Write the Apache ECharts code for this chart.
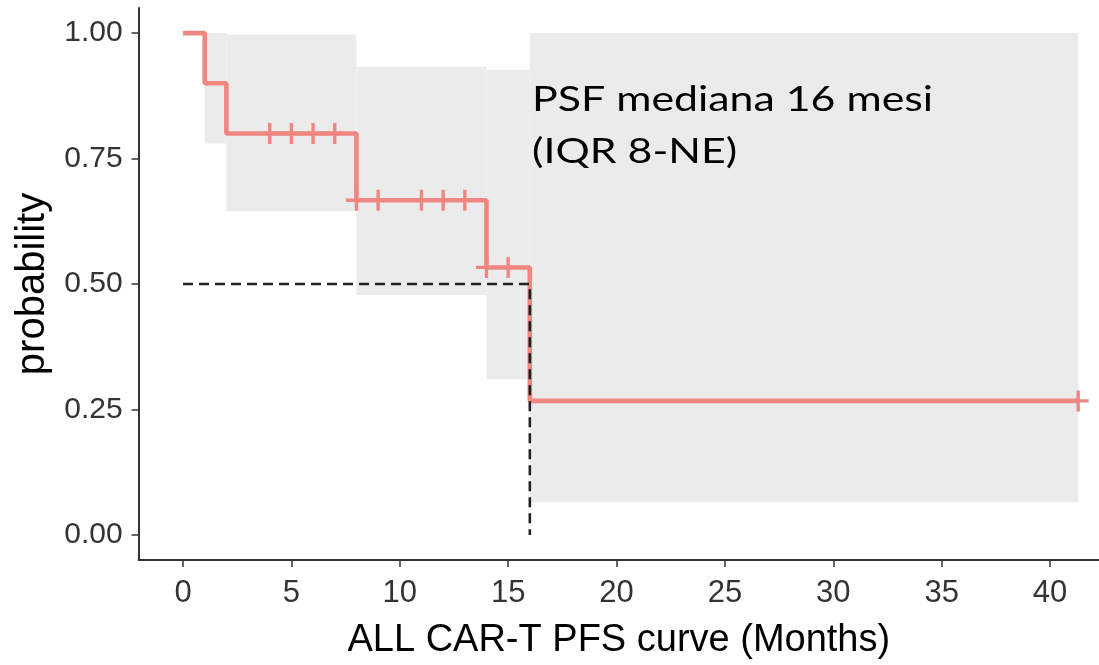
<!DOCTYPE html>
<html>
<head>
<meta charset="utf-8">
<script src="https://cdn.jsdelivr.net/npm/echarts@6/dist/echarts.min.js"></script>
<style>
  html, body { margin: 0; padding: 0; background: #fff; }
  #chart { width: 1099px; height: 665px; }
</style>
</head>
<body>
<div id="chart"></div>
<script>
// Kaplan-Meier step curve
const kmTime = [0, 1, 2, 8, 14, 16, 41.3];
const kmSurv = [1.0, 0.9, 0.8, 0.667, 0.533, 0.267, 0.267];
// censored observations
const censorTime = [4, 5, 6, 7, 8, 9, 11, 12, 13, 14, 15, 41.3];
const censorSurv = [0.8, 0.8, 0.8, 0.8, 0.667, 0.667, 0.667, 0.667, 0.667, 0.533, 0.533, 0.267];
// confidence band steps
const ciStart = [1, 2, 8, 14, 16];
const ciEnd = [2, 8, 14, 16, 41.3];
const ciLower = [0.78, 0.645, 0.478, 0.31, 0.065];
const ciUpper = [1.0, 0.997, 0.933, 0.927, 1.0];
// median
const medianTime = 16;
const medianProb = 0.5;
// ticks
const xTicks = [0, 5, 10, 15, 20, 25, 30, 35, 40];
const yTicks = [0, 0.25, 0.5, 0.75, 1.0];
const annotation = ['PSF mediana 16 mesi', '(IQR 8-NE)'];

const lineColor = '#EF8680';
const bandColor = '#EBEBEB';
const axisColor = '#333333';

const chart = echarts.init(document.getElementById('chart'), null, { renderer: 'canvas' });

const kmData = kmTime.map((t, i) => [t, kmSurv[i]]);
const censorData = censorTime.map((t, i) => [t, censorSurv[i]]);
const bandData = ciStart.map((t, i) => [t, ciEnd[i], ciLower[i], ciUpper[i]]);
const medianData = [[0, medianProb], [medianTime, medianProb], [medianTime, 0]];

const plusPath = 'path://M-1.6,-10 H1.6 V-1.6 H10 V1.6 H1.6 V10 H-1.6 V1.6 H-10 V-1.6 H-1.6 Z';

chart.setOption({
  animation: false,
  backgroundColor: '#ffffff',
  grid: { left: 138.6, right: 0, top: 8, bottom: 103.5, containLabel: false },
  xAxis: {
    type: 'value',
    min: -2.05,
    max: 42.26,
    name: 'ALL CAR-T PFS curve (Months)',
    nameLocation: 'middle',
    nameGap: 62,
    nameTextStyle: { fontFamily: 'Liberation Sans', fontSize: 38, color: '#000' },
    axisLine: { show: true, onZero: false, lineStyle: { color: axisColor, width: 2 } },
    axisTick: { show: true, customValues: xTicks, length: 7, lineStyle: { color: axisColor, width: 1.5 } },
    axisLabel: {
      customValues: xTicks,
      margin: 18,
      fontFamily: 'Liberation Sans',
      fontSize: 31,
      color: '#333'
    },
    splitLine: { show: false }
  },
  yAxis: {
    type: 'value',
    min: -0.05,
    max: 1.05,
    name: 'probability',
    nameLocation: 'middle',
    nameGap: 82,
    nameRotate: 90,
    nameTextStyle: { fontFamily: 'Liberation Sans', fontSize: 40, color: '#000' },
    axisLine: { show: true, onZero: false, lineStyle: { color: axisColor, width: 2 } },
    axisTick: { show: true, customValues: yTicks, length: 7, lineStyle: { color: axisColor, width: 1.5 } },
    axisLabel: {
      customValues: yTicks,
      margin: 16,
      fontFamily: 'Liberation Sans',
      fontSize: 30,
      color: '#333',
      formatter: v => v.toFixed(2)
    },
    splitLine: { show: false }
  },
  series: [
    {
      type: 'custom',
      name: 'CI',
      z: 1,
      silent: true,
      data: bandData,
      encode: { x: [0, 1], y: [2, 3] },
      renderItem: function (params, api) {
        const p0 = api.coord([api.value(0), api.value(3)]);
        const p1 = api.coord([api.value(1), api.value(2)]);
        return {
          type: 'rect',
          shape: { x: p0[0], y: p0[1], width: p1[0] - p0[0], height: p1[1] - p0[1] },
          style: { fill: bandColor }
        };
      }
    },
    {
      type: 'line',
      name: 'KM',
      z: 3,
      step: 'end',
      showSymbol: false,
      data: kmData,
      lineStyle: { color: lineColor, width: 4.6 },
      itemStyle: { color: lineColor }
    },
    {
      type: 'scatter',
      name: 'censor',
      z: 4,
      symbol: plusPath,
      symbolSize: 21,
      data: censorData,
      itemStyle: { color: lineColor, opacity: 1 }
    },
    {
      type: 'line',
      name: 'median',
      z: 5,
      showSymbol: false,
      data: medianData,
      lineStyle: { color: '#222', width: 2.6, type: [10, 6] }
    }
  ],
  graphic: [
    {
      type: 'text',
      left: 532,
      top: 74,
      z: 10,
      scaleX: 1.26,
      originX: 0,
      style: {
        text: annotation.join('\n'),
        font: '34px Lato',
        lineHeight: 52,
        fill: '#000'
      }
    }
  ]
});
</script>
</body>
</html>
